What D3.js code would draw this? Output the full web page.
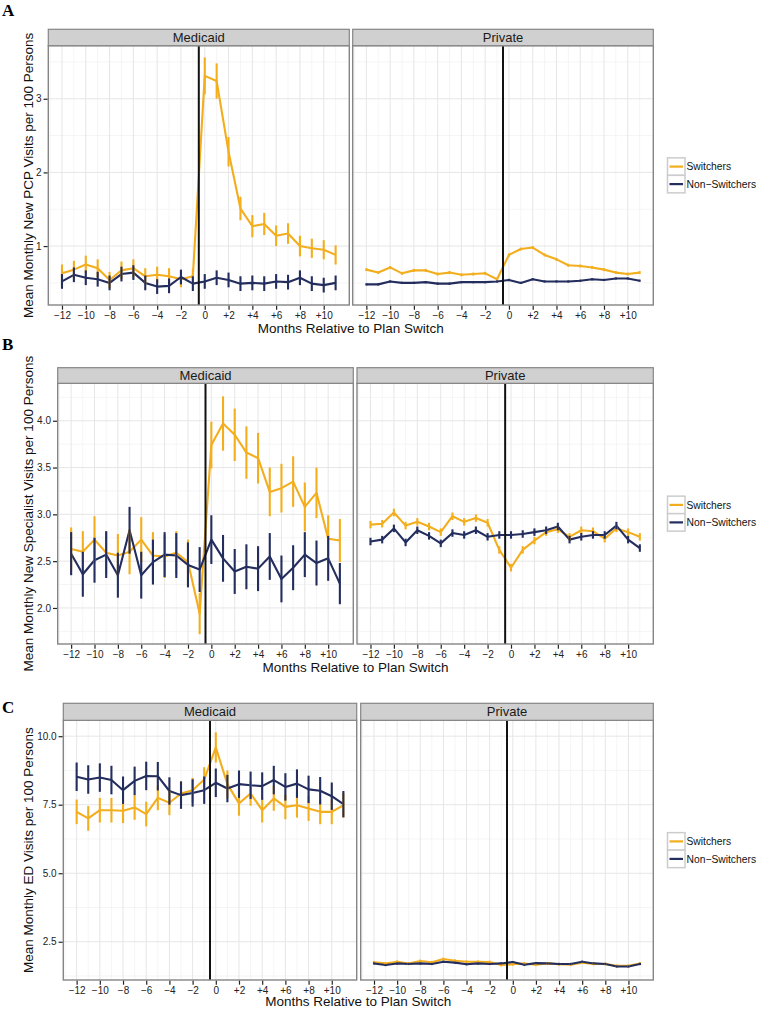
<!DOCTYPE html>
<html>
<head>
<meta charset="utf-8">
<script src="https://cdn.jsdelivr.net/npm/d3@7/dist/d3.min.js"></script>
<style>
  html, body { margin: 0; padding: 0; background: #fff; }
  svg { display: block; }
  text { font-family: "Liberation Sans", Arial, Helvetica, sans-serif; }
</style>
</head>
<body>
<svg id="chart" width="760" height="1009"></svg>
<script>
// ---------------- DATA ----------------
const months = [-12,-11,-10,-9,-8,-7,-6,-5,-4,-3,-2,-1,0,1,2,3,4,5,6,7,8,9,10,11];
const xTicks = [-12,-10,-8,-6,-4,-2,0,2,4,6,8,10];
const facets = ["Medicaid", "Private"];
const seriesNames = ["Switchers", "Non\u2212Switchers"];
const seriesColors = ["#F3AE1E", "#232D5E"];
const panelLabels = ["A", "B", "C"];
const yTitles = [
  "Mean Monthly New PCP Visits per 100 Persons",
  "Mean Monthly New Specialist Visits per 100 Persons",
  "Mean Monthly ED Visits per 100 Persons"
];
const xTitle = "Months Relative to Plan Switch";

// Panel A: new PCP visits
const pcpMedSw    = [0.63,0.68,0.75,0.70,0.54,0.67,0.70,0.59,0.61,0.59,0.55,0.59,3.31,3.24,2.28,1.51,1.27,1.30,1.14,1.17,1.00,0.97,0.95,0.88];
const pcpMedSwErr = [0.12,0.12,0.12,0.12,0.11,0.12,0.12,0.11,0.11,0.11,0.11,0.10,0.25,0.24,0.20,0.16,0.15,0.15,0.14,0.14,0.14,0.13,0.13,0.13];
const pcpMedNs    = [0.52,0.61,0.57,0.55,0.50,0.62,0.64,0.50,0.45,0.46,0.58,0.49,0.52,0.57,0.54,0.49,0.50,0.49,0.52,0.51,0.57,0.49,0.47,0.50];
const pcpMedNsErr = [0.10,0.10,0.10,0.10,0.10,0.10,0.10,0.10,0.10,0.10,0.10,0.10,0.10,0.10,0.10,0.10,0.10,0.10,0.10,0.10,0.10,0.10,0.10,0.10];
const pcpPriSw    = [0.68,0.64,0.71,0.63,0.67,0.67,0.62,0.64,0.61,0.62,0.63,0.55,0.88,0.96,0.98,0.88,0.82,0.74,0.73,0.71,0.68,0.64,0.62,0.64];
const pcpPriSwErr = [0.02,0.02,0.02,0.02,0.02,0.02,0.02,0.02,0.02,0.02,0.02,0.02,0.02,0.02,0.02,0.02,0.02,0.02,0.02,0.02,0.02,0.02,0.02,0.02];
const pcpPriNs    = [0.48,0.48,0.52,0.50,0.50,0.51,0.49,0.49,0.51,0.51,0.51,0.52,0.54,0.50,0.55,0.52,0.52,0.52,0.53,0.55,0.54,0.56,0.56,0.53];
const pcpPriNsErr = [0.015,0.015,0.015,0.015,0.015,0.015,0.015,0.015,0.015,0.015,0.015,0.015,0.015,0.015,0.015,0.015,0.015,0.015,0.015,0.015,0.015,0.015,0.015,0.015];

// Panel B: new specialist visits
const spcMedSw    = [2.63,2.60,2.73,2.59,2.56,2.60,2.73,2.56,2.55,2.59,2.49,1.94,3.74,3.97,3.85,3.66,3.60,3.24,3.28,3.35,3.08,3.23,2.74,2.72];
const spcMedSwErr = [0.23,0.22,0.25,0.23,0.23,0.24,0.24,0.25,0.23,0.23,0.24,0.22,0.25,0.29,0.28,0.28,0.27,0.26,0.26,0.27,0.26,0.27,0.25,0.23];
const spcMedNs    = [2.58,2.36,2.51,2.57,2.35,2.83,2.35,2.49,2.57,2.56,2.46,2.41,2.73,2.53,2.39,2.44,2.42,2.55,2.31,2.43,2.57,2.48,2.53,2.26];
const spcMedNsErr = [0.23,0.24,0.24,0.25,0.24,0.25,0.25,0.24,0.24,0.24,0.24,0.24,0.26,0.25,0.24,0.24,0.24,0.25,0.25,0.24,0.24,0.24,0.24,0.22];
const spcPriSw    = [2.89,2.90,3.02,2.88,2.92,2.87,2.81,2.98,2.92,2.96,2.91,2.62,2.43,2.62,2.72,2.81,2.84,2.76,2.83,2.82,2.74,2.85,2.81,2.76];
const spcPriSwErr = [0.04,0.04,0.04,0.04,0.04,0.04,0.04,0.04,0.04,0.04,0.04,0.04,0.04,0.04,0.04,0.04,0.04,0.04,0.04,0.04,0.04,0.04,0.04,0.04];
const spcPriNs    = [2.71,2.73,2.85,2.70,2.83,2.77,2.69,2.80,2.78,2.83,2.76,2.78,2.78,2.79,2.81,2.83,2.87,2.73,2.76,2.78,2.78,2.88,2.73,2.64];
const spcPriNsErr = [0.04,0.04,0.04,0.04,0.04,0.04,0.04,0.04,0.04,0.04,0.04,0.04,0.04,0.04,0.04,0.04,0.04,0.04,0.04,0.04,0.04,0.04,0.04,0.04];

// Panel C: ED visits
const edMedSw     = [7.24,7.00,7.30,7.30,7.28,7.40,7.16,7.75,7.57,7.91,8.03,8.42,9.59,8.25,7.55,7.91,7.30,7.73,7.42,7.48,7.36,7.24,7.24,7.48];
const edMedSwErr  = [0.45,0.45,0.45,0.45,0.45,0.45,0.45,0.45,0.45,0.45,0.45,0.45,0.55,0.50,0.45,0.45,0.45,0.45,0.45,0.45,0.45,0.45,0.45,0.45];
const edMedNs     = [8.52,8.42,8.49,8.40,8.03,8.37,8.55,8.54,8.00,7.85,7.93,8.03,8.30,8.09,8.25,8.21,8.18,8.40,8.15,8.27,8.06,8.01,7.81,7.52];
const edMedNsErr  = [0.52,0.52,0.52,0.52,0.50,0.52,0.52,0.52,0.50,0.50,0.50,0.50,0.52,0.50,0.50,0.50,0.50,0.52,0.50,0.52,0.50,0.50,0.50,0.48];
const edPriSw     = [1.75,1.71,1.77,1.71,1.80,1.75,1.87,1.81,1.77,1.77,1.76,1.65,1.68,1.71,1.66,1.71,1.68,1.66,1.74,1.69,1.69,1.62,1.62,1.71];
const edPriSwErr  = [0.05,0.05,0.05,0.05,0.05,0.05,0.05,0.05,0.05,0.05,0.05,0.05,0.05,0.05,0.05,0.05,0.05,0.05,0.05,0.05,0.05,0.05,0.05,0.05];
const edPriNs     = [1.71,1.65,1.71,1.69,1.71,1.69,1.77,1.74,1.68,1.71,1.69,1.71,1.76,1.66,1.72,1.71,1.69,1.69,1.77,1.71,1.69,1.60,1.60,1.69];
const edPriNsErr  = [0.04,0.04,0.04,0.04,0.04,0.04,0.04,0.04,0.04,0.04,0.04,0.04,0.04,0.04,0.04,0.04,0.04,0.04,0.04,0.04,0.04,0.04,0.04,0.04];

// y axis limits and ticks per panel
const yDomains = [[0.20, 3.72], [1.615, 4.40], [1.105, 10.58]];
const yTicksA = [1, 2, 3];
const yTicksB = [2.0, 2.5, 3.0, 3.5, 4.0];
const yTicksC = [2.5, 5.0, 7.5, 10.0];
const yMinorA = [0.5, 1.5, 2.5, 3.5];
const yMinorB = [1.75, 2.25, 2.75, 3.25, 3.75, 4.25];
const yMinorC = [1.25, 3.75, 6.25, 8.75];
const xMinor = [-13,-11,-9,-7,-5,-3,-1,1,3,5,7,9,11];
const switchMonth = [-0.5];

// ---------------- LAYOUT ----------------
const layout = [
  { labelY: 16,  stripTop: 29.3,  plotTop: 45.7,  plotBottom: 305, titleOff: 23,
    facetX: [[48.3, 349.3], [352.7, 653.3]], yFmt: d3.format("d") },
  { labelY: 350, stripTop: 367.7, plotTop: 383.3, plotBottom: 644, titleOff: 23,
    facetX: [[57.7, 353.3], [357, 653.3]], yFmt: d3.format(".1f") },
  { labelY: 713, stripTop: 703.3, plotTop: 720.3, plotBottom: 980, titleOff: 21.3,
    facetX: [[63.3, 356.7], [360.7, 653.3]], yFmt: d3.format(".1f") }
];

const panelData = [
  { yTicks: yTicksA, yMinor: yMinorA, facets: [
      [[pcpMedSw, pcpMedSwErr], [pcpMedNs, pcpMedNsErr]],
      [[pcpPriSw, pcpPriSwErr], [pcpPriNs, pcpPriNsErr]] ] },
  { yTicks: yTicksB, yMinor: yMinorB, facets: [
      [[spcMedSw, spcMedSwErr], [spcMedNs, spcMedNsErr]],
      [[spcPriSw, spcPriSwErr], [spcPriNs, spcPriNsErr]] ] },
  { yTicks: yTicksC, yMinor: yMinorC, facets: [
      [[edMedSw, edMedSwErr], [edMedNs, edMedNsErr]],
      [[edPriSw, edPriSwErr], [edPriNs, edPriNsErr]] ] }
];

const svg = d3.select("#chart");
const xDomain = [-12 - 0.05 * 23, 11 + 0.05 * 23];
const fmtMonth = d => d === 0 ? "0" : (d > 0 ? "+" + d : "\u2212" + Math.abs(d));

layout.forEach((L, pi) => {
  const P = panelData[pi];
  const g = svg.append("g");
  const y = d3.scaleLinear().domain(yDomains[pi]).range([L.plotBottom, L.plotTop]);

  g.append("text").attr("x", 2).attr("y", L.labelY)
    .style("font-family", "'Liberation Serif', 'Times New Roman', serif")
    .style("font-weight", "bold").style("font-size", "17px")
    .text(panelLabels[pi]);

  L.facetX.forEach((fx, fi) => {
    const x = d3.scaleLinear().domain(xDomain).range(fx);
    const fg = g.append("g");
    const w = fx[1] - fx[0];

    fg.append("rect").attr("x", fx[0]).attr("y", L.plotTop).attr("width", w)
      .attr("height", L.plotBottom - L.plotTop).attr("fill", "#fff");

    fg.selectAll(".gxm").data(xMinor).enter().append("line")
      .attr("x1", d => x(d)).attr("x2", d => x(d))
      .attr("y1", L.plotTop).attr("y2", L.plotBottom)
      .attr("stroke", "#f3f3f3").attr("stroke-width", 0.8);
    fg.selectAll(".gym").data(P.yMinor.filter(v => v > yDomains[pi][0] && v < yDomains[pi][1])).enter().append("line")
      .attr("y1", d => y(d)).attr("y2", d => y(d))
      .attr("x1", fx[0]).attr("x2", fx[1])
      .attr("stroke", "#f3f3f3").attr("stroke-width", 0.8);
    fg.selectAll(".gx").data(xTicks).enter().append("line")
      .attr("x1", d => x(d)).attr("x2", d => x(d))
      .attr("y1", L.plotTop).attr("y2", L.plotBottom)
      .attr("stroke", "#e6e6e6").attr("stroke-width", 1);
    fg.selectAll(".gy").data(P.yTicks).enter().append("line")
      .attr("y1", d => y(d)).attr("y2", d => y(d))
      .attr("x1", fx[0]).attr("x2", fx[1])
      .attr("stroke", "#e6e6e6").attr("stroke-width", 1);

    const series = P.facets[fi];
    const line = d3.line().x((d, i) => x(months[i])).y(d => y(d));
    series.forEach((s, si) => {
      fg.append("path").datum(s[0]).attr("d", line)
        .attr("fill", "none").attr("stroke", seriesColors[si])
        .attr("stroke-width", 2.1).attr("stroke-linejoin", "round");
    });
    series.forEach((s, si) => {
      fg.selectAll(null).data(s[0]).enter().append("line")
        .attr("x1", (d, i) => x(months[i])).attr("x2", (d, i) => x(months[i]))
        .attr("y1", (d, i) => y(d - s[1][i])).attr("y2", (d, i) => y(d + s[1][i]))
        .attr("stroke", seriesColors[si]).attr("stroke-width", 2.1);
    });

    fg.selectAll(".vl").data(switchMonth).enter().append("line")
      .attr("x1", d => x(d)).attr("x2", d => x(d))
      .attr("y1", L.plotTop).attr("y2", L.plotBottom)
      .attr("stroke", "#111").attr("stroke-width", 2);

    fg.append("rect").attr("x", fx[0]).attr("y", L.plotTop).attr("width", w)
      .attr("height", L.plotBottom - L.plotTop).attr("fill", "none")
      .attr("stroke", "#858585").attr("stroke-width", 1.4);

    fg.append("rect").attr("x", fx[0]).attr("y", L.stripTop).attr("width", w)
      .attr("height", L.plotTop - L.stripTop).attr("fill", "#d0d0d0")
      .attr("stroke", "#858585").attr("stroke-width", 1.2);
    fg.append("text").attr("x", (fx[0] + fx[1]) / 2).attr("y", (L.stripTop + L.plotTop) / 2)
      .attr("dy", "0.36em").attr("text-anchor", "middle")
      .style("font-size", "13px").attr("fill", "#1a1a1a").text(facets[fi]);

    const xAxis = d3.axisBottom(x).tickValues(xTicks).tickFormat(fmtMonth)
      .tickSize(4).tickPadding(2);
    const ax = fg.append("g").attr("transform", `translate(0,${L.plotBottom + 0.7})`).call(xAxis);
    ax.select(".domain").remove();
    ax.selectAll(".tick line").attr("stroke", "#222").attr("stroke-width", 1.2);
    ax.selectAll(".tick text").style("font-size", "10px").attr("fill", "#222")
      .style("font-family", "'Liberation Sans', Arial, sans-serif");

    if (fi === 0) {
      const yAxis = d3.axisLeft(y).tickValues(P.yTicks).tickFormat(L.yFmt)
        .tickSize(4).tickPadding(2);
      const ay = fg.append("g").attr("transform", `translate(${fx[0] - 0.7},0)`).call(yAxis);
      ay.select(".domain").remove();
      ay.selectAll(".tick line").attr("stroke", "#222").attr("stroke-width", 1.2);
      ay.selectAll(".tick text").style("font-size", "10px").attr("fill", "#222")
        .style("font-family", "'Liberation Sans', Arial, sans-serif");
    }
  });

  const xc = (L.facetX[0][0] + L.facetX[1][1]) / 2;
  g.append("text").attr("x", xc).attr("y", L.plotBottom + L.titleOff).attr("dy", "0.34em")
    .attr("text-anchor", "middle").style("font-size", "13.5px").attr("fill", "#111").text(xTitle);
  const yc = (L.plotTop + L.plotBottom) / 2;
  g.append("text").attr("transform", `translate(28,${yc}) rotate(-90)`).attr("dy", "0.36em")
    .attr("text-anchor", "middle").style("font-size", "13.5px").attr("fill", "#111").text(yTitles[pi]);

  const lx = 667.5, kw = 17.5, kh = 17.5;
  const ly = yc - kh;
  const lg = g.append("g");
  seriesNames.forEach((nm, si) => {
    const ky = ly + si * kh;
    lg.append("rect").attr("x", lx).attr("y", ky).attr("width", kw).attr("height", kh)
      .attr("fill", "#fff").attr("stroke", "#cccccc").attr("stroke-width", 1.5);
    lg.append("line").attr("x1", lx + 2).attr("x2", lx + kw - 2)
      .attr("y1", ky + kh / 2).attr("y2", ky + kh / 2)
      .attr("stroke", seriesColors[si]).attr("stroke-width", 2.2);
    lg.append("text").attr("x", lx + kw + 1.5).attr("y", ky + kh / 2).attr("dy", "0.36em")
      .style("font-size", "10.3px").attr("fill", "#111").text(nm);
  });
});
</script>
</body>
</html>
